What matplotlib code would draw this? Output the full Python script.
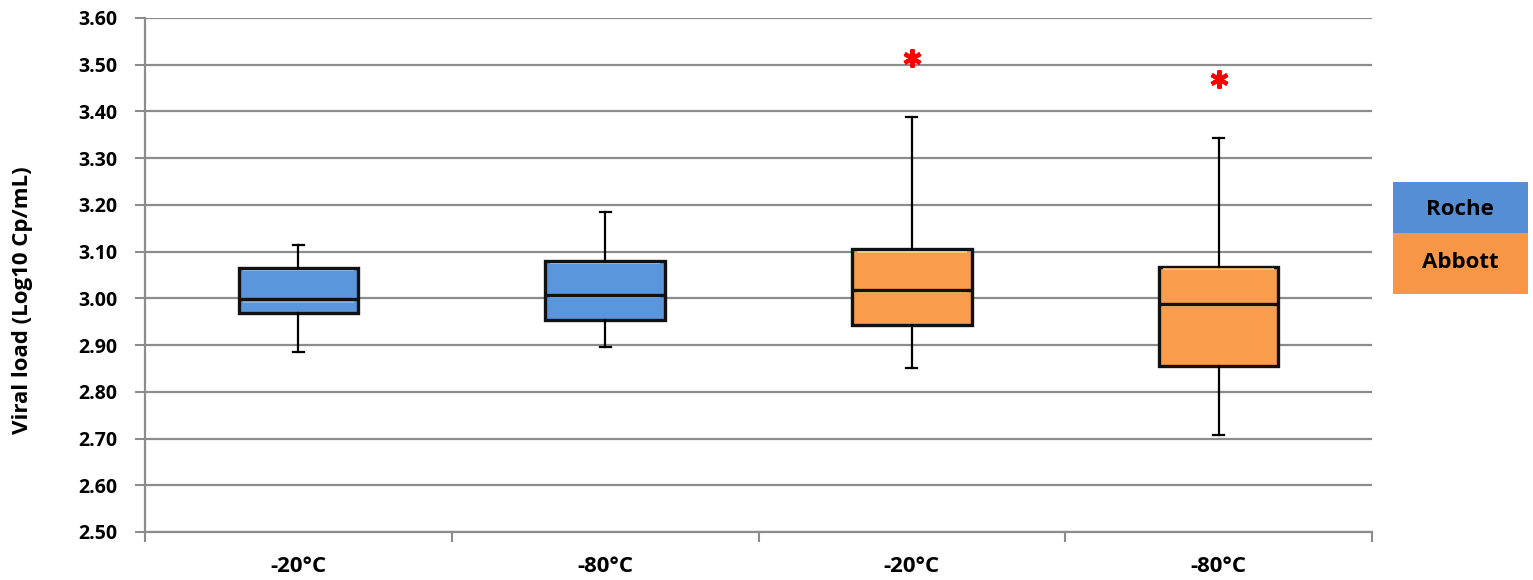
import matplotlib.pyplot as plt
from matplotlib.patches import Rectangle

plt.rcParams['font.family'] = ['Open Sans', 'DejaVu Sans']
plt.rcParams['font.weight'] = 'bold'

labels = ['-20°C', '-80°C', '-20°C', '-80°C']
groups = ['Roche', 'Roche', 'Abbott', 'Abbott']
whislo = [2.885, 2.896, 2.851, 2.708]
q1 = [2.968, 2.953, 2.943, 2.856]
med = [2.998, 3.008, 3.018, 2.988]
q3 = [3.065, 3.080, 3.105, 3.068]
whishi = [3.114, 3.184, 3.389, 3.344]
star_y = [None, None, 3.514, 3.469]

colors = {'Roche': '#5A96DC', 'Abbott': '#F99D4C'}
legend_colors = {'Roche': '#558ED5', 'Abbott': '#F79646'}

fig = plt.figure(figsize=(15.33, 5.8), dpi=100)
ax = fig.add_axes([0.0946, 0.0828, 0.8004, 0.8862])

stats = []
for i in range(len(labels)):
    stats.append({'whislo': whislo[i], 'q1': q1[i], 'med': med[i],
                  'q3': q3[i], 'whishi': whishi[i], 'fliers': []})

pos = list(range(len(labels)))
bp = ax.bxp(stats, positions=pos, widths=0.39, patch_artist=True,
            showfliers=False, capwidths=0.036,
            boxprops=dict(edgecolor='#111111', linewidth=2.4),
            medianprops=dict(color='#111111', linewidth=2.4),
            whiskerprops=dict(color='black', linewidth=1.6),
            capprops=dict(color='black', linewidth=1.6))
for box, g in zip(bp['boxes'], groups):
    box.set_facecolor(colors[g])
    box.set_zorder(3)
for k in ['medians', 'whiskers', 'caps']:
    for l in bp[k]:
        l.set_zorder(4)

# light bevel strips on the top of each box half
for i, g in enumerate(groups):
    light = '#8CC3F2' if g == 'Roche' else '#FFD27A'
    for lo, hi in [(q1[i], med[i]), (med[i], q3[i])]:
        ax.add_patch(Rectangle((pos[i] - 0.18, hi - 0.0075), 0.36, 0.004,
                               facecolor=light, edgecolor='none',
                               zorder=3.5, alpha=0.8))

for i, s in enumerate(star_y):
    if s is not None:
        ax.plot(pos[i], s, marker=(6, 2, 0), color='red', markersize=13,
                markeredgewidth=3, zorder=5, clip_on=False)

ax.set_ylim(2.5, 3.6)
ax.set_xlim(-0.5, len(labels) - 0.5)
ax.set_yticks([2.5 + 0.1 * k for k in range(12)])
ax.set_yticklabels(['%.2f' % (2.5 + 0.1 * k) for k in range(12)],
                   fontsize=14, fontweight='bold')
ax.yaxis.grid(True, color='#8C8C8C', linewidth=1.6)
ax.set_axisbelow(True)

ax.set_xticks(pos)
ax.set_xticklabels(labels, fontsize=16, fontweight='bold')
ax.tick_params(axis='x', length=0, pad=17)
ax.set_xticks([p + 0.5 for p in [-1] + pos], minor=True)
ax.tick_params(axis='x', which='minor', length=7, color='#8C8C8C', width=1.5)
ax.tick_params(axis='y', length=7, color='#8C8C8C', width=1.5, pad=13)

for sp in ['top', 'right']:
    ax.spines[sp].set_visible(False)
for sp in ['left', 'bottom']:
    ax.spines[sp].set_color('#8C8C8C')
    ax.spines[sp].set_linewidth(1.6)

ax.set_ylabel('Viral load (Log10 Cp/mL)', fontsize=16, fontweight='bold')
ax.yaxis.set_label_coords(-(145 - 33) / 1227, (532 - 300) / 514)

# legend boxes on the right
fig.patches.append(Rectangle((1393 / 1533, 1 - 233 / 580), 135 / 1533, 51 / 580,
                             transform=fig.transFigure, facecolor=legend_colors['Roche'],
                             edgecolor='none'))
fig.patches.append(Rectangle((1393 / 1533, 1 - 294 / 580), 135 / 1533, 61 / 580,
                             transform=fig.transFigure, facecolor=legend_colors['Abbott'],
                             edgecolor='none'))
fig.text(1460 / 1533, 1 - 210 / 580, 'Roche', ha='center', va='center',
         fontsize=16, fontweight='bold')
fig.text(1460 / 1533, 1 - 262 / 580, 'Abbott', ha='center', va='center',
         fontsize=16, fontweight='bold')

fig.savefig('out.png', dpi=100)
